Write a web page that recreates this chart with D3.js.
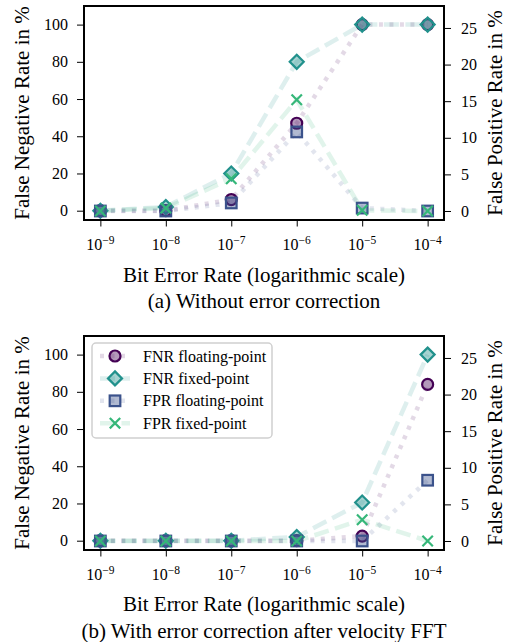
<!DOCTYPE html>
<html>
<head>
<meta charset="utf-8">
<script src="https://cdn.jsdelivr.net/npm/d3@7"></script>
<style>
  html, body { margin: 0; padding: 0; background: #fff; }
  svg { display: block; font-family: "Liberation Serif", "DejaVu Serif", serif; }
  svg text { font-family: "Liberation Serif", "DejaVu Serif", serif; }
</style>
</head>
<body>
<svg id="chart" width="506" height="642"></svg>
<script>
// ---------------- data ----------------
const ber = [1e-9, 1e-8, 1e-7, 1e-6, 1e-5, 1e-4];
const berExponents = ["−9", "−8", "−7", "−6", "−5", "−4"];
const fnrTicks = [0, 20, 40, 60, 80, 100];
const fprTicks = [0, 5, 10, 15, 20, 25];

// (a) Without error correction
const fnrFloatA = [0, 0, 6, 47, 100, 100];
const fnrFixedA = [0, 2, 20, 80, 100, 100];
const fprFloatA = [0, 0, 1.1, 10.8, 0.4, 0];
const fprFixedA = [0, 0.4, 4.4, 15.2, 0.1, 0];

// (b) With error correction after velocity FFT
const fnrFloatB = [0, 0, 0, 0, 2.5, 84];
const fnrFixedB = [0, 0, 0, 2, 20.5, 100];
const fprFloatB = [0, 0, 0, 0, 0, 8.3];
const fprFixedB = [0, 0, 0, 0, 2.9, 0];

const seriesNames = ["FNR floating-point", "FNR fixed-point", "FPR floating-point", "FPR fixed-point"];
const captions = ["(a) Without error correction", "(b) With error correction after velocity FFT"];

// ---------------- styles ----------------
const styles = [
  { color: "#440154", marker: "circle",  dash: "4,6.5",  axis: "left"  },
  { color: "#21918c", marker: "diamond", dash: "15,6.5", axis: "left"  },
  { color: "#3b528b", marker: "square",  dash: "4,6.5",  axis: "right" },
  { color: "#35b779", marker: "x",       dash: "15,6.5", axis: "right" }
];

const svg = d3.select("#chart");
const X0 = 84, X1 = 444;
const FONT = "Liberation Serif";

function drawMarker(g, type, cx, cy, color) {
  if (type === "circle") {
    g.append("circle").attr("cx", cx).attr("cy", cy).attr("r", 5.5)
      .attr("fill", color).attr("fill-opacity", 0.4)
      .attr("stroke", color).attr("stroke-width", 2.2);
  } else if (type === "diamond") {
    const r = 7;
    g.append("path").attr("d", `M${cx},${cy - r}L${cx + r},${cy}L${cx},${cy + r}L${cx - r},${cy}Z`)
      .attr("fill", color).attr("fill-opacity", 0.4)
      .attr("stroke", color).attr("stroke-width", 2.2);
  } else if (type === "square") {
    const h = 5.3;
    g.append("rect").attr("x", cx - h).attr("y", cy - h).attr("width", 2 * h).attr("height", 2 * h)
      .attr("fill", color).attr("fill-opacity", 0.4)
      .attr("stroke", color).attr("stroke-width", 2.2);
  } else {
    const h = 5.2;
    g.append("path").attr("d", `M${cx - h},${cy - h}L${cx + h},${cy + h}M${cx - h},${cy + h}L${cx + h},${cy - h}`)
      .attr("fill", "none").attr("stroke", color).attr("stroke-width", 2.2);
  }
}

function drawPanel(top, bottom, seriesData, caption, tickY, xlabelY, captionY, withLegend) {
  const x = d3.scaleLog().domain([Math.pow(10, -9.25), Math.pow(10, -3.75)]).range([X0, X1]);
  const yL = d3.scaleLinear().domain([-5, 110]).range([bottom, top]);
  const yR = d3.scaleLinear().domain([-1.23, 28]).range([bottom, top]);

  const g = svg.append("g");

  // axes
  const xAxis = d3.axisBottom(x).tickValues(ber).tickSize(6.5).tickFormat("");
  const gx = g.append("g").attr("transform", `translate(0,${bottom})`).call(xAxis);
  gx.select(".domain").remove();
  gx.selectAll(".tick line").attr("stroke", "#000").attr("stroke-width", 1);
  ber.forEach((v, i) => {
    const t = g.append("text").attr("x", x(v)).attr("y", tickY)
      .attr("text-anchor", "middle").attr("font-size", 16).attr("font-family", FONT).attr("fill", "#000");
    t.append("tspan").text("10");
    t.append("tspan").attr("dy", -6).attr("font-size", 11.5).text(berExponents[i]);
  });

  const gyl = g.append("g").attr("transform", `translate(${X0},0)`)
    .call(d3.axisLeft(yL).tickValues(fnrTicks).tickSize(7).tickPadding(9));
  gyl.select(".domain").remove();
  gyl.attr("font-family", FONT);
  gyl.selectAll("text").attr("font-size", 16).attr("font-family", FONT).attr("fill", "#000");
  gyl.selectAll(".tick line").attr("stroke", "#000");

  const gyr = g.append("g").attr("transform", `translate(${X1},0)`)
    .call(d3.axisRight(yR).tickValues(fprTicks).tickSize(7).tickPadding(10));
  gyr.select(".domain").remove();
  gyr.attr("font-family", FONT);
  gyr.selectAll("text").attr("font-size", 16).attr("font-family", FONT).attr("fill", "#000");
  gyr.selectAll(".tick line").attr("stroke", "#000");

  // series
  seriesData.forEach((vals, si) => {
    const st = styles[si];
    const ys = st.axis === "left" ? yL : yR;
    const line = d3.line().x((d, i) => x(ber[i])).y(d => ys(d));
    g.append("path").datum(vals).attr("d", line)
      .attr("fill", "none").attr("stroke", st.color).attr("stroke-opacity", 0.15)
      .attr("stroke-width", 4.5).attr("stroke-dasharray", st.dash);
    vals.forEach((v, i) => drawMarker(g, st.marker, x(ber[i]), ys(v), st.color));
  });

  // frame
  g.append("rect").attr("x", X0).attr("y", top).attr("width", X1 - X0).attr("height", bottom - top)
    .attr("fill", "none").attr("stroke", "#000").attr("stroke-width", 2);

  // labels
  const cy = (top + bottom) / 2;
  g.append("text").attr("transform", `translate(22,${cy}) rotate(-90)`)
    .attr("text-anchor", "middle").attr("dominant-baseline", "central")
    .attr("font-size", 21).text("False Negative Rate in %");
  g.append("text").attr("transform", `translate(495,${cy}) rotate(-90)`)
    .attr("text-anchor", "middle").attr("dominant-baseline", "central")
    .attr("font-size", 21).text("False Positive Rate in %");
  g.append("text").attr("x", (X0 + X1) / 2).attr("y", xlabelY).attr("text-anchor", "middle")
    .attr("font-size", 21).text("Bit Error Rate (logarithmic scale)");
  g.append("text").attr("x", 264).attr("y", captionY).attr("text-anchor", "middle")
    .attr("font-size", 21).text(caption);

  if (withLegend) {
    const lg = g.append("g");
    lg.append("rect").attr("x", 92).attr("y", 343).attr("width", 180).attr("height", 95)
      .attr("rx", 4).attr("fill", "#fff").attr("fill-opacity", 0.8)
      .attr("stroke", "#d0d0d0").attr("stroke-width", 1.5);
    seriesNames.forEach((name, i) => {
      const ry = 356 + i * 22.4;
      const st = styles[i];
      lg.append("line").attr("x1", 100).attr("x2", 130).attr("y1", ry).attr("y2", ry)
        .attr("stroke", st.color).attr("stroke-opacity", 0.15).attr("stroke-width", 4.5)
        .attr("stroke-dasharray", st.dash);
      drawMarker(lg, st.marker, 115, ry, st.color);
      lg.append("text").attr("x", 143).attr("y", ry).attr("dominant-baseline", "central")
        .attr("font-size", 16).text(name);
    });
  }
}

drawPanel(6, 220, [fnrFloatA, fnrFixedA, fprFloatA, fprFixedA], captions[0], 250, 282, 308, false);
drawPanel(336, 550, [fnrFloatB, fnrFixedB, fprFloatB, fprFixedB], captions[1], 580, 611, 638, true);
</script>
</body>
</html>
